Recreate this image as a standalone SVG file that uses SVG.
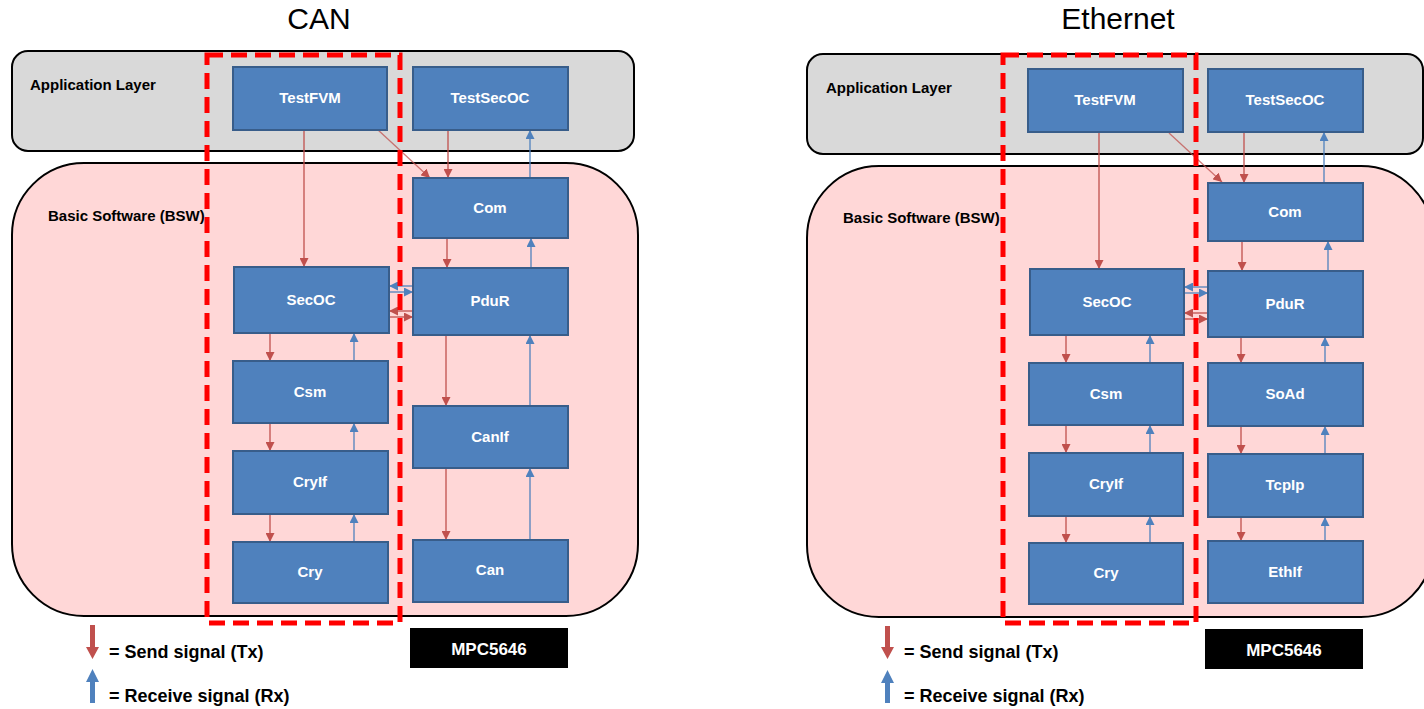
<svg xmlns="http://www.w3.org/2000/svg" width="1424" height="709" viewBox="0 0 1424 709">
<style>
.title{font-family:"Liberation Sans",Arial,sans-serif;font-size:30px;fill:#000;text-anchor:middle}
.layer{font-family:"Liberation Sans",Arial,sans-serif;font-size:15px;font-weight:bold;fill:#000}
.app{fill:#d9d9d9;stroke:#000;stroke-width:2}
.bsw{fill:#ffd7d7;stroke:#000;stroke-width:2}
.node rect{fill:#4f81bd;stroke:#385d8a;stroke-width:2}
.node text{font-family:"Liberation Sans",Arial,sans-serif;font-size:15px;font-weight:bold;fill:#fff;text-anchor:middle}
.tx{stroke:#c0504d;stroke-width:1.3;fill:none;marker-end:url(#ar)}
.rx{stroke:#4f81bd;stroke-width:1.3;fill:none;marker-end:url(#ab)}
.sec{fill:none;stroke:#ff0000;stroke-width:5;stroke-dasharray:16 8}
.leg{font-family:"Liberation Sans",Arial,sans-serif;font-size:18px;font-weight:bold;fill:#000}
.mpc rect{fill:#000}
.mpc text{font-family:"Liberation Sans",Arial,sans-serif;font-size:17px;font-weight:bold;fill:#fff;text-anchor:middle}
</style>
<defs>
<marker id="ar" viewBox="0 0 10 10" refX="10" refY="5" markerWidth="9" markerHeight="9" markerUnits="userSpaceOnUse" orient="auto"><path d="M0,0 L10,5 L0,10 z" fill="#c0504d"/></marker>
<marker id="ab" viewBox="0 0 10 10" refX="10" refY="5" markerWidth="9" markerHeight="9" markerUnits="userSpaceOnUse" orient="auto"><path d="M0,0 L10,5 L0,10 z" fill="#4f81bd"/></marker>
</defs>
<rect width="1424" height="709" fill="#fff"/>

<!-- CAN panel -->
<text class="title" x="319" y="29">CAN</text>
<rect class="app" x="12" y="51" width="622" height="100" rx="16"/>
<rect class="bsw" x="12" y="163" width="626" height="453" rx="72"/>
<text class="layer" x="30" y="90">Application Layer</text>
<text class="layer" x="48" y="221">Basic Software (BSW)</text>

<g id="connectors-can">
<path class="tx" d="M304,130 V267"/>
<path class="tx" d="M377,129 L430,178" stroke-opacity="0.75"/>
<path class="tx" d="M448,130 V178"/>
<path class="tx" d="M447,238 V268"/>
<path class="tx" d="M446,335 V406"/>
<path class="tx" d="M446,468 V540"/>
<path class="tx" d="M270,333 V361"/>
<path class="tx" d="M270,423 V451"/>
<path class="tx" d="M270,514 V542"/>
<path class="tx" d="M413,311 H389"/>
<path class="tx" d="M389,317 H413"/>
<path class="rx" d="M530,178 V130"/>
<path class="rx" d="M531,268 V238"/>
<path class="rx" d="M530,406 V335"/>
<path class="rx" d="M530,540 V468"/>
<path class="rx" d="M354,361 V333"/>
<path class="rx" d="M354,451 V423"/>
<path class="rx" d="M354,542 V514"/>
<path class="rx" d="M413,286 H389"/>
<path class="rx" d="M389,292 H413"/>
</g>

<g id="can-testfvm" class="node"><rect x="233" y="67" width="154" height="63"/><text x="310" y="103">TestFVM</text></g>
<g id="can-testsecoc" class="node"><rect x="413" y="67" width="155" height="63"/><text x="490" y="103">TestSecOC</text></g>
<g id="can-com" class="node"><rect x="413" y="178" width="155" height="60"/><text x="490" y="213">Com</text></g>
<g id="can-pdur" class="node"><rect x="413" y="268" width="155" height="67"/><text x="490" y="306">PduR</text></g>
<g id="can-secoc" class="node"><rect x="234" y="267" width="155" height="66"/><text x="311" y="305">SecOC</text></g>
<g id="can-csm" class="node"><rect x="233" y="361" width="155" height="62"/><text x="310" y="397">Csm</text></g>
<g id="can-cryif" class="node"><rect x="233" y="451" width="155" height="63"/><text x="310" y="487">CryIf</text></g>
<g id="can-cry" class="node"><rect x="233" y="542" width="155" height="61"/><text x="310" y="577">Cry</text></g>
<g id="can-canif" class="node"><rect x="413" y="406" width="155" height="62"/><text x="490" y="442">CanIf</text></g>
<g id="can-can" class="node"><rect x="413" y="540" width="155" height="62"/><text x="490" y="575">Can</text></g>

<rect class="sec" x="207" y="55" width="193" height="568"/>

<polygon points="90,625 95,625 95,647 99,647 92.5,659 86,647 90,647" fill="#c0504d"/>
<text class="leg" x="109" y="658">= Send signal (Tx)</text>
<polygon points="92.5,669 99,682 95,682 95,703 90,703 90,682 86,682" fill="#4f81bd"/>
<text class="leg" x="109" y="702">= Receive signal (Rx)</text>
<g id="can-mpc" class="mpc"><rect x="410" y="628" width="158" height="40"/><text x="489" y="655">MPC5646</text></g>

<!-- Ethernet panel -->
<text class="title" x="1118" y="29">Ethernet</text>
<rect class="app" x="807" y="54" width="616" height="100" rx="16"/>
<rect class="bsw" x="807" y="166" width="626" height="451" rx="72"/>
<text class="layer" x="826" y="93">Application Layer</text>
<text class="layer" x="843" y="223">Basic Software (BSW)</text>

<g id="connectors-eth">
<path class="tx" d="M1099,132 V269"/>
<path class="tx" d="M1169,133 L1222,182" stroke-opacity="0.75"/>
<path class="tx" d="M1244,132 V183"/>
<path class="tx" d="M1242,241 V271"/>
<path class="tx" d="M1241,337 V363"/>
<path class="tx" d="M1241,426 V454"/>
<path class="tx" d="M1241,517 V541"/>
<path class="tx" d="M1066,335 V363"/>
<path class="tx" d="M1066,425 V453"/>
<path class="tx" d="M1066,516 V543"/>
<path class="tx" d="M1208,313 H1184"/>
<path class="tx" d="M1184,319 H1208"/>
<path class="rx" d="M1324,183 V132"/>
<path class="rx" d="M1328,271 V241"/>
<path class="rx" d="M1325,363 V337"/>
<path class="rx" d="M1325,454 V426"/>
<path class="rx" d="M1325,541 V517"/>
<path class="rx" d="M1150,363 V335"/>
<path class="rx" d="M1150,453 V425"/>
<path class="rx" d="M1150,543 V516"/>
<path class="rx" d="M1208,287 H1184"/>
<path class="rx" d="M1184,293 H1208"/>
</g>

<g id="eth-testfvm" class="node"><rect x="1028" y="69" width="155" height="63"/><text x="1105" y="105">TestFVM</text></g>
<g id="eth-testsecoc" class="node"><rect x="1208" y="69" width="155" height="63"/><text x="1285" y="105">TestSecOC</text></g>
<g id="eth-com" class="node"><rect x="1208" y="183" width="155" height="58"/><text x="1285" y="217">Com</text></g>
<g id="eth-pdur" class="node"><rect x="1208" y="271" width="155" height="66"/><text x="1285" y="309">PduR</text></g>
<g id="eth-secoc" class="node"><rect x="1030" y="269" width="154" height="66"/><text x="1107" y="307">SecOC</text></g>
<g id="eth-csm" class="node"><rect x="1029" y="363" width="154" height="62"/><text x="1106" y="399">Csm</text></g>
<g id="eth-cryif" class="node"><rect x="1029" y="453" width="154" height="63"/><text x="1106" y="489">CryIf</text></g>
<g id="eth-cry" class="node"><rect x="1029" y="543" width="154" height="61"/><text x="1106" y="578">Cry</text></g>
<g id="eth-soad" class="node"><rect x="1208" y="363" width="155" height="63"/><text x="1285" y="399">SoAd</text></g>
<g id="eth-tcpip" class="node"><rect x="1208" y="454" width="155" height="63"/><text x="1285" y="490">TcpIp</text></g>
<g id="eth-ethif" class="node"><rect x="1208" y="541" width="155" height="62"/><text x="1285" y="577">EthIf</text></g>

<rect class="sec" x="1003" y="55" width="193" height="568"/>

<polygon points="885,626 890,626 890,647 894,647 887.5,659 881,647 885,647" fill="#c0504d"/>
<text class="leg" x="904" y="658">= Send signal (Tx)</text>
<polygon points="887.5,670 894,683 890,683 890,703 885,703 885,683 881,683" fill="#4f81bd"/>
<text class="leg" x="904" y="702">= Receive signal (Rx)</text>
<g id="eth-mpc" class="mpc"><rect x="1205" y="629" width="158" height="40"/><text x="1284" y="656">MPC5646</text></g>
</svg>
